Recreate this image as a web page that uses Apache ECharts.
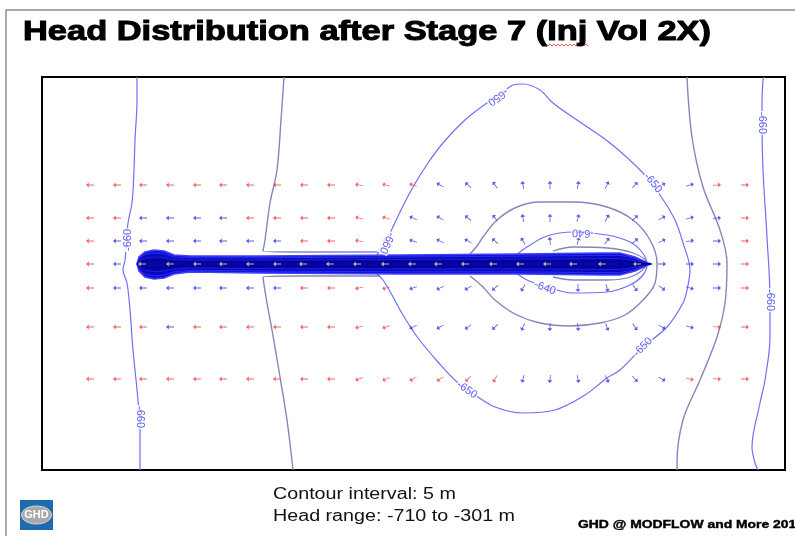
<!DOCTYPE html>
<html>
<head>
<meta charset="utf-8">
<script src="https://cdn.jsdelivr.net/npm/echarts@6/dist/echarts.min.js"></script>
<style>
  html, body { margin: 0; padding: 0; background: #fff; }
  #chart { width: 795px; height: 536px; }
</style>
</head>
<body>
<div id="chart"></div>
<script>
// Model grid extent (cells): x 0..743 east, y 0..393 north
const xExtent = [0, 743];
const yExtent = [0, 393];

// Flow-vector grid: column eastings and row northings
const vecCols = [48, 75, 101, 128, 155, 181, 208, 235, 262, 289, 317, 344, 371, 398, 426, 453, 481, 508, 536, 565, 593, 620, 648, 675, 703];
const vecRows = [285, 252, 229, 206, 182, 143, 91];

// Flow direction (degrees, counter-clockwise from east) per row; null = inside the injection gallery
const dirRow1 = [180, 180, 180, 180, 180, 180, 180, 180, 180, 180, 170, 165, 160, 150, 140, 125, 100, 90, 80, 65, 50, 30, 15, 5, 0];
const dirRow2 = [180, 180, 180, 180, 180, 180, 180, 180, 180, 180, 165, 160, 155, 150, 140, 125, 100, 90, 75, 60, 45, 30, 15, 5, 0];
const dirRow3 = [180, 180, 180, 180, 180, 180, 180, 180, 180, 180, 170, 165, 160, 155, 150, 140, 120, 95, 75, 55, 40, 25, 10, 0, 0];
const dirRow4 = [180, 180, null, null, null, null, null, null, null, null, null, null, null, null, null, null, null, null, null, null, null, 0, 0, 0, 0];
const dirRow5 = [180, 180, 180, 180, 180, 180, 180, 180, 180, 180, 190, 195, 200, 205, 210, 220, 240, 265, 270, 285, 305, 325, 345, 0, 0];
const dirRow6 = [180, 180, 180, 180, 180, 180, 180, 180, 180, 180, 195, 200, 205, 210, 215, 225, 245, 265, 275, 290, 305, 330, 345, 355, 0];
const dirRow7 = [180, 180, 180, 180, 180, 180, 180, 180, 180, 180, 200, 205, 210, 215, 225, 240, 255, 265, 280, 295, 310, 330, 345, 355, 0];
const dirRows = [dirRow1, dirRow2, dirRow3, dirRow4, dirRow5, dirRow6, dirRow7];

// Vector class per row: r = red, b = blue
const clsRows = [
  'rrrrrrrrrrrrrbbbbbbbbbbrr',
  'rrbbbbrrrrrrbbbbbbbbbbbbr',
  'rbbbbbbbrrrrbbbbbbbbbbbbr',
  'rbbbbbbbbbbbbbbbbbbbbbbbr',
  'rbbbbbbbrrrrbbbbbbbbbbbbr',
  'rrrbrrrrrrrrbbbbbbbbbbbrr',
  'rrrrrrrrrrrrrrrrbbbbbbrrr'
];

// Vectors inside the injection gallery
const galleryVecX = [100, 128, 155, 181, 208, 235, 261, 288, 315, 343, 370, 396, 423, 451, 478, 505, 531, 560, 595];
const galleryVecY = 206;

// Injection gallery envelope
const galleryOutline = [[95,206],[97,213],[103,218],[112,220],[122,219],[132,215],[148,214],[218,214],[358,215],[478,216],[558,217],[578,217],[593,213],[606,207],[609,206],[606,205],[593,199],[578,195],[558,195],[478,196],[358,196],[218,197],[148,198],[132,196],[122,192],[112,191],[103,193],[97,199]];

// Head contours (m)
const c660West = [[95,393],[95,370],[93,330],[92,300],[90,267],[86,247],[83,210],[81,200],[85,187],[88,160],[91,120],[96,70],[98,40],[98,0]];
const c655WestN = [[242,393],[239,350],[235,300],[228,267],[223,230],[221,219],[258,218],[338,218]];
const c655WestS = [[338,194],[258,194],[221,193],[225,167],[230,140],[238,93],[245,50],[251,0]];
const c650Loop = [[335,215],[341,225],[348,237],[358,258],[371,283],[386,307],[401,327],[423,350],[445,367],[461,378],[471,385],[481,386],[498,380],[511,367],[535,350],[568,327],[601,297],[618,275],[633,250],[641,227],[648,200],[645,180],[641,167],[625,143],[601,123],[578,100],[565,92],[543,75],[513,60],[481,57],[453,63],[433,75],[416,87],[396,108],[376,132],[361,155],[350,175],[341,190],[335,196]];
const c645Lobe = [[428,216],[435,224],[441,233],[455,250],[475,263],[498,268],[531,268],[565,263],[591,250],[608,230],[615,207],[613,187],[603,172],[583,155],[558,147],[528,144],[498,147],[473,156],[453,170],[441,183],[428,194]];
const c640Lobe = [[473,214],[485,223],[505,234],[531,238],[565,235],[588,228],[600,218],[605,206],[601,195],[588,185],[565,178],[531,177],[505,183],[485,190],[473,198]];
const c635Lobe = [[511,219],[531,223],[565,222],[591,217],[605,207],[591,194],[565,190],[531,190],[511,193]];
const c655East = [[645,393],[650,333],[661,283],[678,240],[685,207],[683,167],[675,133],[658,90],[641,50],[635,7],[635,0]];
const c660East = [[722,393],[721,390],[720,367],[720,347],[721,300],[725,233],[728,170],[728,133],[723,90],[718,67],[710,23],[713,7],[716,0]];

// Contour labels: [x, y, text, rotation]
const contourLabels = [
  [86, 230, '-660', 90],
  [98, 53, '-660', -90],
  [456, 373, '-650', -145],
  [345, 227, '-660', -115],
  [611, 287, '-650', -50],
  [601, 123, '-650', 45],
  [425, 80, '-650', -35],
  [541, 237, '-640', 178],
  [503, 182, '-640', -20],
  [720, 347, '-660', -90],
  [728, 170, '-660', -90]
];

const LIGHT = '#6f6ff5';
const GREY = '#8585bb';
const arrowPath = 'path://M0,2.1 L6.5,2.1 L6.5,0 L10,2.5 L6.5,5 L6.5,2.9 L0,2.9 Z';

// horizontal stretch so a text run spans the wanted width
const measureCtx = document.createElement('canvas').getContext('2d');
function stretchFor(text, font, width) {
  measureCtx.font = font;
  return width / measureCtx.measureText(text).width;
}

const TITLE = 'Head Distribution after Stage 7 (Inj Vol 2X)';
const TITLE_FONT = 'bold 27px "Liberation Sans", Arial, sans-serif';
const NOTE_FONT = '16px "Liberation Sans", Arial, sans-serif';
const NOTE1 = 'Contour interval: 5 m';
const NOTE2 = 'Head range: -710 to -301 m';
const CREDIT = 'GHD @ MODFLOW and More 2017';
const CREDIT_FONT = 'bold 11px "Liberation Sans", Arial, sans-serif';

function vectorData(cls) {
  const out = [];
  vecRows.forEach((y, r) => {
    vecCols.forEach((x, c) => {
      const a = dirRows[r][c];
      if (a === null) return;
      if (clsRows[r][c] !== cls) return;
      out.push({ value: [x, y], symbolRotate: a });
    });
  });
  return out;
}

function contourSeries(data, color, width) {
  return {
    type: 'line', data: data, showSymbol: false, smooth: 0.35, silent: true,
    lineStyle: { color: color, width: width || 1.2 }, z: 3, animation: false
  };
}

const chart = echarts.init(document.getElementById('chart'), null, { renderer: 'canvas' });

const option = {
  animation: false,
  backgroundColor: '#ffffff',
  grid: { left: 42, top: 77, width: 743, height: 393, show: true, borderColor: '#000', borderWidth: 2, backgroundColor: 'transparent' },
  xAxis: { type: 'value', min: xExtent[0], max: xExtent[1], show: false },
  yAxis: { type: 'value', min: yExtent[0], max: yExtent[1], show: false },
  graphic: [
    { type: 'line', shape: { x1: 6, y1: 10, x2: 795, y2: 10 }, style: { stroke: '#555', lineWidth: 1 } },
    { type: 'line', shape: { x1: 6, y1: 10, x2: 6, y2: 536 }, style: { stroke: '#555', lineWidth: 1 } },
    { type: 'text', x: 23, y: 19, scaleX: stretchFor(TITLE, TITLE_FONT, 688), style: { text: TITLE, font: TITLE_FONT, fill: '#000', stroke: '#000', lineWidth: 1 } ,
      z: 10 },
    { type: 'polyline', shape: { points: [[548,46],[550,44],[552,46],[554,44],[556,46],[558,44],[560,46],[562,44],[564,46],[566,44],[568,46],[570,44],[572,46],[574,44],[576,46],[578,44],[580,46],[582,44],[584,46],[586,44],[588,46]] }, style: { stroke: '#e03030', lineWidth: 0.8, fill: null } },
    { type: 'text', x: 273, y: 487, scaleX: stretchFor(NOTE2, NOTE_FONT, 242), style: { text: NOTE1, font: NOTE_FONT, fill: '#111', verticalAlign: 'top' } },
    { type: 'text', x: 273, y: 509, scaleX: stretchFor(NOTE2, NOTE_FONT, 242), style: { text: NOTE2, font: NOTE_FONT, fill: '#111', verticalAlign: 'top' } },
    { type: 'text', x: 578, y: 519, scaleX: stretchFor(CREDIT, CREDIT_FONT, 226), style: { text: CREDIT, font: CREDIT_FONT, fill: '#000', stroke: '#000', lineWidth: 0.4, verticalAlign: 'top' } },
    { type: 'rect', shape: { x: 20, y: 500, width: 33, height: 30 }, style: { fill: '#1f6bb0' } },
    { type: 'ellipse', shape: { cx: 36.5, cy: 515, rx: 15, ry: 9 }, style: { fill: '#a9a9a9', stroke: '#d8d8d8', lineWidth: 1 } },
    { type: 'text', x: 36.5, y: 515, style: { text: 'GHD', font: 'bold 11px "Liberation Sans", Arial, sans-serif', fill: '#fff', align: 'center', verticalAlign: 'middle' } }
  ],
  series: [
    contourSeries(c660West, LIGHT),
    contourSeries(c655WestN, GREY, 1.4),
    contourSeries(c655WestS, GREY, 1.4),
    contourSeries(c650Loop, LIGHT),
    contourSeries(c645Lobe, GREY, 1.4),
    contourSeries(c640Lobe, LIGHT),
    contourSeries(c635Lobe, GREY, 1.3),
    contourSeries(c655East, GREY, 1.4),
    contourSeries(c660East, LIGHT),
    {
      // densely packed contours around the injection gallery
      type: 'custom', silent: true, z: 4, animation: false,
      data: [0],
      renderItem: function (params, api) {
        const pts = galleryOutline.map(p => api.coord(p));
        const cx = api.coord([350, 206]);
        const scaled = (k) => pts.map(p => [p[0], cx[1] + (p[1] - cx[1]) * k]);
        const children = [
          { type: 'polygon', shape: { points: pts }, style: { fill: '#1010d4', stroke: '#4040ff', lineWidth: 1.6 } },
          { type: 'polygon', shape: { points: scaled(0.78) }, style: { fill: '#0808c0', stroke: '#2a2aee', lineWidth: 1 } },
          { type: 'polygon', shape: { points: scaled(0.5) }, style: { fill: '#0606a8', stroke: '#1e1ee0', lineWidth: 1 } },
          { type: 'polyline', shape: { points: scaled(0.25) }, style: { stroke: '#000088', lineWidth: 1, fill: null } }
        ];
        return { type: 'group', children: children };
      }
    },
    {
      type: 'scatter', name: 'red', silent: true, z: 5, animation: false,
      symbol: arrowPath, symbolSize: [8, 5],
      itemStyle: { color: '#ff3a3a' },
      data: vectorData('r')
    },
    {
      type: 'scatter', name: 'blue', silent: true, z: 5, animation: false,
      symbol: arrowPath, symbolSize: [8, 5],
      itemStyle: { color: '#2f2fe0' },
      data: vectorData('b')
    },
    {
      type: 'scatter', name: 'gallery', silent: true, z: 6, animation: false,
      symbol: arrowPath, symbolSize: [8, 5], symbolRotate: 180,
      itemStyle: { color: '#e6e6a8' },
      data: galleryVecX.map(x => [x, galleryVecY])
    },
    {
      type: 'scatter', name: 'labels', silent: true, z: 7, animation: false,
      symbolSize: 0,
      data: contourLabels.map(l => ({
        value: [l[0], l[1]],
        label: { show: true, position: 'inside', formatter: l[2], rotate: l[3], color: '#3535ee', fontSize: 11, fontFamily: '"Liberation Sans", Arial, sans-serif', backgroundColor: '#fff', padding: [0, 1] }
      }))
    }
  ]
};
chart.setOption(option);
</script>
</body>
</html>
